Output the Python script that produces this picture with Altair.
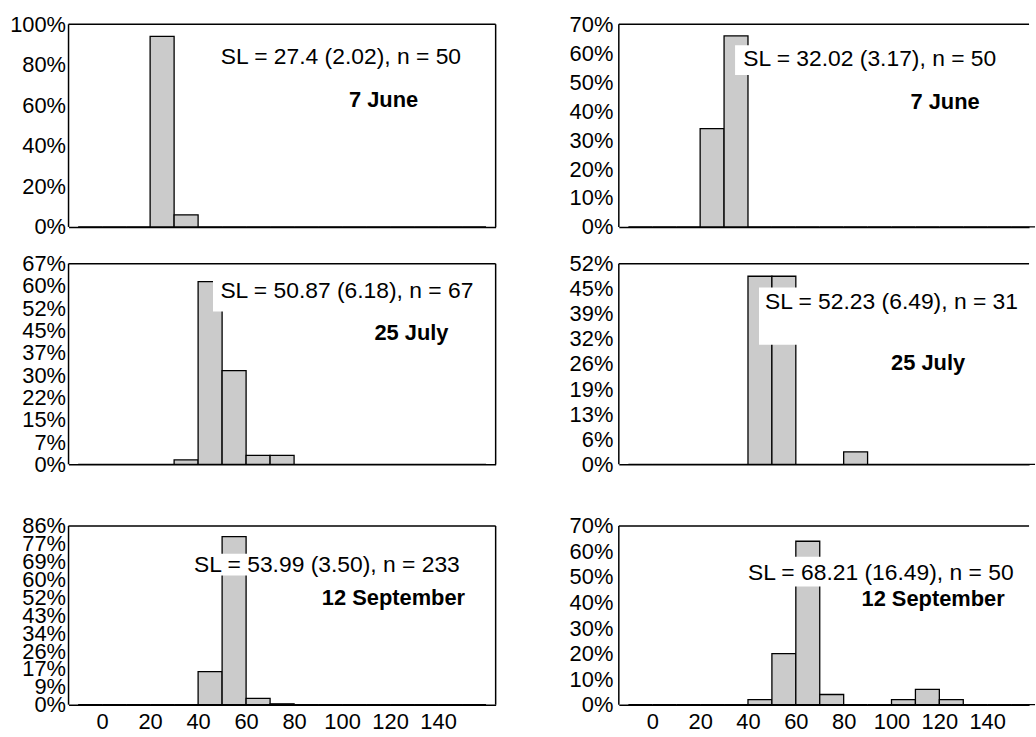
import altair as alt
import pandas as pd

# ---- data -------------------------------------------------------------
bins = [-10, 0, 10, 20, 30, 40, 50, 60, 70, 80, 90, 100, 110, 120, 130, 140, 150]

counts_tl = [0, 0, 0, 47, 3, 0, 0, 0, 0, 0, 0, 0, 0, 0, 0, 0, 0]
counts_tr = [0, 0, 0, 17, 33, 0, 0, 0, 0, 0, 0, 0, 0, 0, 0, 0, 0]
counts_ml = [0, 0, 0, 0, 1, 41, 21, 2, 2, 0, 0, 0, 0, 0, 0, 0, 0]
counts_mr = [0, 0, 0, 0, 0, 15, 15, 0, 0, 1, 0, 0, 0, 0, 0, 0, 0]
counts_bl = [0, 0, 0, 0, 0, 37, 188, 7, 1, 0, 0, 0, 0, 0, 0, 0, 0]
counts_br = [0, 0, 0, 0, 0, 1, 10, 32, 2, 0, 0, 1, 3, 1, 0, 0, 0]

sample_n = [50, 50, 67, 31, 233, 50]
axis_max_counts = [50, 35, 45, 16, 200, 35]
axis_step_counts = [10, 5, 5, 2, 20, 5]

stat_labels = [
    "SL = 27.4 (2.02), n = 50",
    "SL = 32.02 (3.17), n = 50",
    "SL = 50.87 (6.18), n = 67",
    "SL = 52.23 (6.49), n = 31",
    "SL = 53.99 (3.50), n = 233",
    "SL = 68.21 (16.49), n = 50",
]
date_labels = ["7 June", "7 June", "25 July", "25 July", "12 September", "12 September"]
x_tick_values = [0, 20, 40, 60, 80, 100, 120, 140]

# annotation placement (data coordinates: x units, y fraction)
stat_pos = [(99.5, 0.838), (90.9, 0.5816), (102, 0.5785), (100, 0.4177), (93.7, 0.6724), (95.5, 0.5172)]
date_pos = [(117.3, 0.627), (122.4, 0.4324), (128.9, 0.4389), (115.3, 0.2606), (121.4, 0.5103), (117.4, 0.4122)]
box_pos = [
    None,
    (34.6, 147.2, 0.525, 0.628),
    (46.2, 158.0, 0.512, 0.615),
    (44.6, 157.0, 0.3074, 0.4548),
    (34.9, 152.5, 0.62, 0.7249),
    (37.0, 157.0, 0.4628, 0.5794),
]

FONT = "Liberation Sans"
FS = 22
frame_heights = [204, 202, 180]
view_heights = [204, 202, 205]


def panel(i, counts, left_side, row, show_x):
    n = sample_n[i]
    ymax = axis_max_counts[i] / n
    yscale_max = ymax * view_heights[row] / frame_heights[row]
    yticks = [k * axis_step_counts[i] / n for k in range(axis_max_counts[i] // axis_step_counts[i] + 1)]
    xdom = [-14, 164] if left_side else [-14, 157.5]
    width = 430 if left_side else 413

    xs = alt.Scale(domain=xdom, nice=False, zero=False, padding=0)
    ys = alt.Scale(domain=[0, yscale_max], nice=False, zero=True, padding=0)
    xaxis = alt.Axis(
        values=x_tick_values, labels=show_x, ticks=False, grid=False,
        labelFlush=False, labelPadding=7, title=None,
        domainColor="black", domainWidth=1.5,
    )
    yaxis = alt.Axis(
        values=yticks, format=".0%", ticks=False, grid=False, domain=False,
        labelOverlap=False, labelFlush=False, labelPadding=3 if left_side else 6,
        title=None,
    )

    df = pd.DataFrame({
        "start": bins,
        "end": [b + 10 for b in bins],
        "pct": [c / n for c in counts],
        "base": [0.0] * len(bins),
    })
    bars = alt.Chart(df).mark_rect(fill="#cbcbcb", stroke="black", strokeWidth=1.3).encode(
        x=alt.X("start:Q", scale=xs, axis=xaxis),
        x2="end:Q",
        y=alt.Y("pct:Q", scale=ys, axis=yaxis),
        y2="base:Q",
    )
    layers = [bars]

    if box_pos[i] is not None:
        bx0, bx1, by0, by1 = box_pos[i]
        bdf = pd.DataFrame({"x0": [bx0], "x1": [bx1], "y0": [by0], "y1": [by1]})
        layers.append(
            alt.Chart(bdf).mark_rect(fill="white").encode(
                x=alt.X("x0:Q", scale=xs, axis=xaxis), x2="x1:Q",
                y=alt.Y("y0:Q", scale=ys, axis=yaxis), y2="y1:Q",
            )
        )

    tdf = pd.DataFrame({"x": [stat_pos[i][0]], "y": [stat_pos[i][1]], "t": [stat_labels[i]]})
    layers.append(
        alt.Chart(tdf).mark_text(font=FONT, fontSize=FS + 1, align="center", baseline="middle", color="black").encode(
            x=alt.X("x:Q", scale=xs, axis=xaxis), y=alt.Y("y:Q", scale=ys, axis=yaxis), text="t:N"
        )
    )
    ddf = pd.DataFrame({"x": [date_pos[i][0]], "y": [date_pos[i][1]], "t": [date_labels[i]]})
    layers.append(
        alt.Chart(ddf).mark_text(font=FONT, fontSize=FS, fontWeight="bold", align="center",
                                 baseline="middle", color="black").encode(
            x=alt.X("x:Q", scale=xs, axis=xaxis), y=alt.Y("y:Q", scale=ys, axis=yaxis), text="t:N"
        )
    )

    # frame: top edge, left edge, (right edge for left column)
    fdf = pd.DataFrame({"x0": [xdom[0]], "x1": [xdom[1]], "y0": [0.0], "y1": [ymax]})
    layers.append(
        alt.Chart(fdf).mark_rule(color="black", strokeWidth=1.5).encode(
            x=alt.X("x0:Q", scale=xs, axis=xaxis), x2="x1:Q",
            y=alt.Y("y1:Q", scale=ys, axis=yaxis),
        )
    )
    layers.append(
        alt.Chart(fdf).mark_rule(color="black", strokeWidth=1.5).encode(
            x=alt.X("x0:Q", scale=xs, axis=xaxis),
            y=alt.Y("y0:Q", scale=ys, axis=yaxis), y2="y1:Q",
        )
    )
    if left_side:
        layers.append(
            alt.Chart(fdf).mark_rule(color="black", strokeWidth=1.5).encode(
                x=alt.X("x1:Q", scale=xs, axis=xaxis),
                y=alt.Y("y0:Q", scale=ys, axis=yaxis), y2="y1:Q",
            )
        )

    return alt.layer(*layers).properties(width=width, height=view_heights[row])


panels = [
    panel(0, counts_tl, True, 0, False),
    panel(1, counts_tr, False, 0, False),
    panel(2, counts_ml, True, 1, False),
    panel(3, counts_mr, False, 1, False),
    panel(4, counts_bl, True, 2, True),
    panel(5, counts_br, False, 2, True),
]

chart = alt.concat(
    *panels, columns=2, spacing={"row": 37, "column": 124}, bounds="flush"
).properties(
    padding={"left": 9, "top": 11, "right": 0, "bottom": 0},
    background="white",
).configure_view(
    strokeWidth=0
).configure_axis(
    labelFont=FONT, labelFontSize=FS, labelColor="black"
)

chart.save("out.html", embed_options={"renderer": "svg", "actions": False})
